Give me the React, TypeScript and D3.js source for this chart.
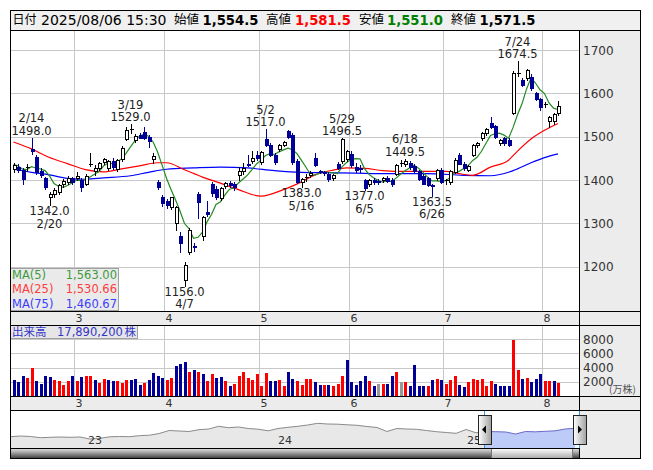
import React from 'react';
import * as d3 from 'd3';

// ---------------- DATA ----------------
const monthLabels = ['3', '4', '5', '6', '7', '8'];
const monthStartIndex = [14, 34, 55, 75, 96, 118];
const priceTicks = [1200, 1300, 1400, 1500, 1600, 1700];
const volumeTicks = [2000, 4000, 6000, 8000];

// [open, high, low, close] per trading day, 2025/02/07 .. 2025/08/06
const ohlc: [number, number, number, number][] = [
  [1425, 1440, 1418, 1434], [1430, 1436, 1418, 1424], [1424, 1428, 1390, 1402], [1428, 1436, 1422, 1430],
  [1472, 1498, 1460, 1466], [1454, 1458, 1415, 1418], [1420, 1428, 1408, 1412], [1405, 1408, 1380, 1384],
  [1360, 1372, 1342, 1368], [1368, 1382, 1362, 1378], [1372, 1392, 1368, 1388], [1390, 1402, 1385, 1398],
  [1396, 1410, 1392, 1406], [1404, 1408, 1392, 1396],
  [1404, 1418, 1400, 1410], [1400, 1404, 1374, 1384], [1392, 1414, 1388, 1410], [1434, 1462, 1432, 1436],
  [1420, 1434, 1412, 1428], [1428, 1442, 1424, 1440], [1441, 1450, 1436, 1448], [1428, 1446, 1424, 1444],
  [1444, 1450, 1426, 1430], [1426, 1448, 1422, 1446], [1448, 1478, 1444, 1474], [1495, 1522, 1492, 1515],
  [1516, 1529, 1508, 1518], [1492, 1506, 1488, 1502], [1504, 1508, 1496, 1498], [1511, 1522, 1494, 1497],
  [1500, 1504, 1477, 1490], [1448, 1462, 1440, 1456], [1396, 1400, 1380, 1385], [1362, 1366, 1340, 1348],
  [1352, 1356, 1335, 1342], [1338, 1362, 1334, 1360], [1300, 1340, 1285, 1338], [1270, 1280, 1234, 1255],
  [1170, 1210, 1156, 1204], [1234, 1290, 1230, 1285], [1248, 1256, 1236, 1246], [1368, 1372, 1312, 1350],
  [1270, 1318, 1262, 1315], [1326, 1352, 1318, 1322], [1390, 1396, 1364, 1370], [1380, 1386, 1356, 1362],
  [1358, 1384, 1354, 1382], [1386, 1396, 1382, 1393], [1394, 1398, 1384, 1388], [1390, 1396, 1378, 1384],
  [1412, 1430, 1400, 1420], [1420, 1440, 1414, 1428], [1438, 1458, 1432, 1437], [1444, 1468, 1440, 1451],
  [1458, 1468, 1446, 1450],
  [1441, 1466, 1438, 1464], [1494, 1517, 1478, 1481], [1482, 1486, 1456, 1459], [1459, 1462, 1438, 1441],
  [1471, 1484, 1468, 1481], [1481, 1490, 1478, 1487], [1513, 1516, 1498, 1500], [1505, 1508, 1438, 1442],
  [1444, 1448, 1394, 1396], [1395, 1404, 1383, 1402], [1406, 1414, 1398, 1408], [1412, 1420, 1408, 1416],
  [1452, 1462, 1432, 1435], [1421, 1424, 1416, 1418], [1419, 1422, 1412, 1417], [1415, 1418, 1398, 1402],
  [1404, 1414, 1400, 1411], [1438, 1442, 1426, 1428], [1444, 1496.5, 1440, 1495], [1448, 1470, 1444, 1467],
  [1461, 1466, 1430, 1435], [1431, 1440, 1418, 1423], [1428, 1434, 1418, 1426], [1400, 1403, 1377, 1382],
  [1391, 1402, 1386, 1400], [1400, 1404, 1392, 1396], [1398, 1402, 1392, 1395], [1400, 1408, 1396, 1405],
  [1406, 1410, 1396, 1398], [1400, 1404, 1386, 1390], [1415, 1438, 1412, 1435], [1436, 1446, 1432, 1440],
  [1436, 1449.5, 1432, 1444], [1440, 1444, 1426, 1430], [1432, 1436, 1418, 1422], [1420, 1424, 1400, 1402],
  [1410, 1414, 1390, 1392], [1404, 1408, 1386, 1388], [1388, 1392, 1363.5, 1386], [1404, 1426, 1400, 1423],
  [1423, 1428, 1394, 1396],
  [1398, 1402, 1390, 1400], [1396, 1424, 1392, 1421], [1419, 1450, 1416, 1446], [1458, 1462, 1436, 1438],
  [1438, 1442, 1424, 1427], [1423, 1434, 1420, 1432], [1459, 1484, 1456, 1481], [1481, 1488, 1476, 1485],
  [1496, 1510, 1492, 1508], [1508, 1520, 1504, 1519], [1531, 1546, 1520, 1523], [1525, 1528, 1498, 1500],
  [1485, 1494, 1480, 1492], [1496, 1500, 1482, 1485], [1492, 1496, 1478, 1482], [1555, 1652, 1552, 1646],
  [1645, 1674.5, 1640, 1648], [1631, 1636, 1616, 1619], [1636, 1656, 1632, 1654], [1638, 1644, 1608, 1612],
  [1600, 1604, 1584, 1587], [1587, 1590, 1562, 1569.5],
  [1574, 1580, 1568, 1576], [1536, 1548, 1522, 1546], [1536, 1554, 1530, 1552], [1554.5, 1581.5, 1551.0, 1571.5],
];
const preCloses = [1438, 1442, 1436, 1430];

// volume (万株) per day, grouped by month
const volFeb = [2300, 1930, 2770, 2590, 3990, 2070, 1750, 2870, 2730, 2210, 2070, 1610, 2070, 2870];
const volMar = [2070, 2730, 2870, 2870, 2310, 1790, 2450, 2210, 2070, 2140, 1790, 2310, 2210, 2450, 1610, 1790, 2310, 3190, 2770, 2490];
const volApr = [2210, 2490, 4270, 4550, 4730, 3430, 3710, 3430, 3110, 2070, 3050, 2590, 2630, 2070, 1470, 1750, 2870, 3430, 2590, 2280, 3050];
const volMay = [1470, 3290, 2140, 2070, 2310, 1470, 3360, 2450, 2140, 1610, 2450, 2450, 1930, 1610, 1610, 1610, 1370, 1750, 2770, 5010];
const volJun = [1930, 1610, 2070, 2770, 2070, 1470, 1750, 1750, 1750, 2770, 3360, 1930, 1930, 1370, 4410, 1470, 1470, 1470, 2210, 2450, 2210];
const volJul = [1750, 2210, 2770, 1610, 1230, 1930, 2450, 2310, 2450, 1470, 2070, 1750, 1470, 1470, 1470, 7910, 3710, 2450, 2590, 1930, 2450, 3050];
const volAug = [2140, 2140, 2070, 1789.02];
// bar colour code: r = up, b = down, g = unchanged
const dirFeb = 'bbbrrbbbbrrrrb';
const dirMar = 'rbrrbrrbbrrrbbbrbbbb';
const dirApr = 'rrbbbrbrbrrbbrbrrrrrr';
const dirMay = 'rrbbrrbbrrrrbbrbrrrb';
const dirJun = 'bbbbrbgrbbrgrbbbbrbrb';
const dirJul = 'rrrbbrrrrrrbbbbrrbrbbb';
const dirAug = 'rrbr';

const ma25Index = [0, 4, 8, 12, 16, 20, 24, 28, 32, 34, 38, 42, 46, 50, 55, 60, 64, 67, 71, 74, 78, 82, 87, 92, 96, 99, 102, 106, 110, 112, 115, 118, 121];
const ma25Value = [1488, 1472, 1452, 1438, 1424, 1419, 1426, 1433, 1440, 1440, 1424, 1407, 1393, 1378, 1363, 1378, 1396, 1412, 1423, 1428, 1427, 1422, 1420, 1420, 1420, 1415, 1411, 1430, 1446, 1467, 1495, 1515, 1530.66];
const ma75Index = [0, 4, 8, 12, 16, 20, 26, 30, 34, 40, 46, 52, 58, 64, 70, 76, 84, 92, 100, 106, 110, 112, 115, 118, 121];
const ma75Value = [1425, 1418, 1412, 1404, 1402, 1405, 1410, 1418, 1425, 1428, 1430, 1428, 1422, 1418, 1417, 1416, 1415, 1415, 1411, 1410, 1418, 1426, 1440, 1452, 1460.67];

// navigator (long-term overview)
const navValues = [
  1122, 1159, 1133, 1069, 1090, 1106, 1090, 1106, 999, 1037, 1117, 1133, 1122, 1175, 1202, 1293,
  1453, 1426, 1399, 1495, 1533, 1677, 1602, 1639, 1559, 1522, 1437, 1559, 1623, 1677, 1746, 1837,
  1799, 1789, 1757, 1730, 1666, 1613, 1399, 1559, 1533, 1517, 1453, 1389, 1346, 1303, 1506, 1330,
  1399, 1389, 1373, 1266, 1399, 1383, 1410, 1437, 1533, 1570,
];
const navYearLabels = ['23', '24', '25'];
const navYearAt = [7.7, 26.9, 46.0];
const navSelection = [47.85, 57.45];

const headerDate = '2025/08/06 15:30';
const headerOpen = '1,554.5';
const headerHigh = '1,581.5';
const headerLow = '1,551.0';
const headerClose = '1,571.5';

const annotations = [
  { i: 4, kind: 'high', date: '2/14', value: 1498.0 },
  { i: 8, kind: 'low', date: '2/20', value: 1342.0 },
  { i: 26, kind: 'high', date: '3/19', value: 1529.0 },
  { i: 38, kind: 'low', date: '4/7', value: 1156.0 },
  { i: 56, kind: 'high', date: '5/2', value: 1517.0 },
  { i: 64, kind: 'low', date: '5/16', value: 1383.0 },
  { i: 73, kind: 'high', date: '5/29', value: 1496.5 },
  { i: 78, kind: 'low', date: '6/5', value: 1377.0 },
  { i: 87, kind: 'high', date: '6/18', value: 1449.5 },
  { i: 93, kind: 'low', date: '6/26', value: 1363.5 },
  { i: 112, kind: 'high', date: '7/24', value: 1674.5 },
];

const volumes = [...volFeb, ...volMar, ...volApr, ...volMay, ...volJun, ...volJul, ...volAug];
const volumeDir = dirFeb + dirMar + dirApr + dirMay + dirJun + dirJul + dirAug;

// ---------------- LAYOUT ----------------
const L = 10, R = 641, PR = 579;
const headTop = 10, priceTop = 30, priceBot = 311, band1Bot = 325;
const volBot = 396, band2Bot = 410, navBot = 448, scrollBot = 459;
const FONT = 'DejaVu Sans, Verdana, sans-serif';
const CJK = 'Noto Sans CJK JP, sans-serif';

export default function App() {
  const n = ohlc.length;
  const x = d3.scaleLinear().domain([0, n - 1]).range([13.5, 558]);
  const y = d3.scaleLinear().domain([1098, 1744]).range([311, 31]);
  const yv = d3.scaleLinear().domain([0, 10000]).range([volBot, band1Bot]);
  const xn = d3.scaleLinear().domain([0, navValues.length - 1]).range([10.7, 575]);
  const yn = d3.scaleLinear().domain([520, 2546]).range([navBot, band2Bot]);

  const closes = ohlc.map((d) => d[3]);
  const allCloses = [...preCloses, ...closes];
  const ma5 = closes.map((_, i) => d3.mean(allCloses.slice(i, i + 5)) as number);

  const lineMA5 = d3.line<number>().x((_, i) => x(i)).y((d) => y(d));
  const lineSampled = (idx: number[], vals: number[]) =>
    d3.line<number>().x((_, k) => x(idx[k])).y((d) => y(d)).curve(d3.curveMonotoneX)(vals) as string;

  const gridX = monthStartIndex.map((i) => Math.round(x(i - 0.5)) + 0.5);
  const cxOf = (i: number) => Math.round(x(i));

  const navArea = d3.area<number>().x((_, k) => xn(k)).y0(navBot).y1((d) => yn(d))(navValues) as string;
  const navLine = d3.line<number>().x((_, k) => xn(k)).y((d) => yn(d))(navValues) as string;
  const selX0 = xn(navSelection[0]);
  const selX1 = xn(navSelection[1]);
  const fmt2 = d3.format(',.2f');
  const lastVolStr = d3.format(',')(Math.round(volumes[n - 1] * 10000));

  const handle = (hx: number, dir: 'l' | 'r') => {
    const top = 415, h = 29, w = 13;
    const cy = top + h / 2;
    const tri = dir === 'l'
      ? `M${hx + 4},${cy} L${hx + 8},${cy - 4} L${hx + 8},${cy + 4} Z`
      : `M${hx + 9},${cy} L${hx + 5},${cy - 4} L${hx + 5},${cy + 4} Z`;
    return (
      <g>
        <rect x={hx + 0.5} y={top + 0.5} width={w} height={h} fill="url(#handleGrad)" stroke="#222" />
        <path d={tri} fill="#000" />
      </g>
    );
  };

  return (
    <svg width={653} height={470} style={{ position: 'absolute', left: 0, top: 0, background: '#fff' }}>
      <defs>
        <clipPath id="plotClip"><rect x={L} y={priceTop} width={PR - L} height={priceBot - priceTop} /></clipPath>
        <clipPath id="navSel"><rect x={selX0} y={band2Bot} width={selX1 - selX0} height={navBot - band2Bot} /></clipPath>
        <linearGradient id="scrollGrad" x1="0" y1="0" x2="0" y2="1">
          <stop offset="0" stopColor="#e8e8e8" />
          <stop offset="0.35" stopColor="#b0b0b0" />
          <stop offset="1" stopColor="#333333" />
        </linearGradient>
        <linearGradient id="thumbGrad" x1="0" y1="0" x2="0" y2="1">
          <stop offset="0" stopColor="#ffffff" />
          <stop offset="1" stopColor="#a8a8a8" />
        </linearGradient>
        <linearGradient id="handleGrad" x1="0" y1="0" x2="1" y2="0">
          <stop offset="0" stopColor="#ffffff" />
          <stop offset="1" stopColor="#a0a0a0" />
        </linearGradient>
      </defs>

      {/* backgrounds */}
      <rect x={L} y={headTop} width={R - L} height={priceTop - headTop} fill="#f0f0f0" />
      <rect x={L} y={priceTop} width={PR - L} height={priceBot - priceTop} fill="#fff" />
      <rect x={PR} y={priceTop} width={R - PR} height={band2Bot - priceTop} fill="#ececec" />
      <rect x={L} y={priceBot} width={PR - L} height={band1Bot - priceBot} fill="#ececec" />
      <rect x={L} y={volBot} width={PR - L} height={band2Bot - volBot} fill="#ececec" />
      <rect x={L} y={band1Bot} width={PR - L} height={volBot - band1Bot} fill="#fff" />
      <rect x={L} y={band2Bot} width={PR - L} height={navBot - band2Bot} fill="#fff" />
      <rect x={PR} y={band2Bot} width={R - PR} height={scrollBot - band2Bot} fill="#ececec" />

      {/* header */}
      <g fontSize={14} fontFamily={FONT}>
        <text x={12.5} y={24} fontFamily={CJK} fontSize={12}>日付</text>
        <text x={41} y={24.5}>{headerDate}</text>
        <text x={174} y={24} fontFamily={CJK} fontSize={12.5}>始値</text>
        <text x={202.5} y={24.5} fontWeight="bold" fontSize={13.2}>{headerOpen}</text>
        <text x={266} y={24} fontFamily={CJK} fontSize={12.5}>高値</text>
        <text x={295} y={24.5} fontWeight="bold" fontSize={13.2} fill="#ff0000">{headerHigh}</text>
        <text x={359} y={24} fontFamily={CJK} fontSize={12.5}>安値</text>
        <text x={387} y={24.5} fontWeight="bold" fontSize={13.2} fill="#008000">{headerLow}</text>
        <text x={451} y={24} fontFamily={CJK} fontSize={12.5}>終値</text>
        <text x={479.5} y={24.5} fontWeight="bold" fontSize={13.2}>{headerClose}</text>
      </g>

      {/* grids */}
      <g stroke="#c8c8c8" shapeRendering="crispEdges">
        {priceTicks.map((p) => (
          <line key={p} x1={L} x2={PR} y1={Math.round(y(p)) + 0.5} y2={Math.round(y(p)) + 0.5} />
        ))}
        {gridX.map((gx, k) => (
          <line key={k} x1={gx} x2={gx} y1={priceTop} y2={priceBot} />
        ))}
        {volumeTicks.map((v) => (
          <line key={v} x1={L} x2={PR} y1={Math.round(yv(v)) + 0.5} y2={Math.round(yv(v)) + 0.5} />
        ))}
        {gridX.map((gx, k) => (
          <line key={'v' + k} x1={gx} x2={gx} y1={band1Bot} y2={volBot} />
        ))}
      </g>

      {/* moving averages */}
      <g clipPath="url(#plotClip)" fill="none" strokeWidth={1.2}>
        <path d={lineSampled(ma75Index, ma75Value)} stroke="#0000ff" />
        <path d={lineSampled(ma25Index, ma25Value)} stroke="#ff0000" />
        <path d={lineMA5(ma5) as string} stroke="#228b22" />
      </g>

      {/* candles */}
      <g shapeRendering="crispEdges">
        {ohlc.map(([o, h, l, c], i) => {
          const cx = cxOf(i);
          const up = c >= o;
          const col = up ? '#000000' : '#000099';
          const top = Math.round(y(Math.max(o, c)));
          const bot = Math.round(y(Math.min(o, c)));
          const hh = Math.max(1, bot - top);
          return (
            <g key={i}>
              <line x1={cx + 0.5} x2={cx + 0.5} y1={Math.round(y(h))} y2={Math.round(y(l)) + 1} stroke={col} />
              {up ? (
                hh <= 1 ? (
                  <rect x={cx - 1} y={top} width={4} height={1} fill="#000" />
                ) : (
                  <rect x={cx - 0.5} y={top + 0.5} width={3} height={hh} fill="#fff" stroke="#000" />
                )
              ) : (
                <rect x={cx - 1} y={top} width={4} height={hh + 1} fill="#000099" />
              )}
            </g>
          );
        })}
      </g>

      {/* high / low annotations */}
      <g fontFamily={FONT} fontSize={11.5} fill="#222" textAnchor="middle">
        {annotations.map((a) => {
          const ax = x(a.i);
          const yy = y(a.value);
          if (a.kind === 'high') {
            return (
              <g key={a.date}>
                <text x={ax} y={yy - 15.5}>{a.date}</text>
                <text x={ax} y={yy - 3}>{a.value.toFixed(1)}</text>
              </g>
            );
          }
          return (
            <g key={a.date}>
              <text x={ax} y={yy + 10}>{a.value.toFixed(1)}</text>
              <text x={ax} y={yy + 22.5}>{a.date}</text>
            </g>
          );
        })}
      </g>

      {/* MA legend */}
      <g fontFamily={FONT} fontSize={11.5}>
        <rect x={L + 0.5} y={268.5} width={108} height={42} fill="#e6e6e6" fillOpacity={0.85} stroke="#a0a0a0" />
        <text x={12} y={279} fill="#3d9a3d">MA(5)</text>
        <text x={117} y={279} fill="#3d9a3d" textAnchor="end">{fmt2(ma5[n - 1])}</text>
        <text x={12} y={293} fill="#ff3c3c">MA(25)</text>
        <text x={117} y={293} fill="#ff3c3c" textAnchor="end">{fmt2(ma25Value[ma25Value.length - 1])}</text>
        <text x={12} y={307.5} fill="#3c3cff">MA(75)</text>
        <text x={117} y={307.5} fill="#3c3cff" textAnchor="end">{fmt2(ma75Value[ma75Value.length - 1])}</text>
      </g>

      {/* price axis labels */}
      <g fontFamily={FONT} fontSize={12} fill="#333">
        {priceTicks.map((p) => (
          <text key={p} x={583} y={y(p) + 4.5}>{p}</text>
        ))}
      </g>

      {/* volume bars */}
      <g shapeRendering="crispEdges">
        {volumes.map((v, i) => {
          const cx = cxOf(i);
          const d = volumeDir[i];
          const col = d === 'r' ? '#ff0000' : d === 'g' ? '#999999' : '#000099';
          const top = Math.round(yv(v));
          return <rect key={i} x={cx - 1} y={top} width={3} height={volBot - top} fill={col} />;
        })}
      </g>

      {/* volume label */}
      <g fontSize={11.5}>
        <rect x={L + 0.5} y={band1Bot + 0.5} width={127} height={13} fill="#e6e6e6" stroke="#a0a0a0" />
        <text x={12} y={336} fill="#3535c8" fontFamily={CJK}>出来高</text>
        <text x={57} y={336} fill="#3535c8" fontFamily={FONT}>{lastVolStr}</text>
        <text x={124.5} y={336} fill="#3535c8" fontFamily={CJK}>株</text>
      </g>

      {/* volume axis labels */}
      <g fontFamily={FONT} fontSize={12} fill="#333">
        {volumeTicks.map((v) => (
          <text key={v} x={583} y={yv(v) + 4.5}>{v}</text>
        ))}
        <text x={609} y={393} fontSize={10} fontFamily={CJK} fill="#555">(万株)</text>
      </g>

      {/* month labels */}
      <g fontFamily={FONT} fontSize={11} fill="#333" textAnchor="middle">
        {gridX.map((gx, k) => (
          <text key={'a' + k} x={gx + 4.5} y={321.5}>{monthLabels[k]}</text>
        ))}
        {gridX.map((gx, k) => (
          <text key={'b' + k} x={gx + 4.5} y={406.5}>{monthLabels[k]}</text>
        ))}
      </g>

      {/* navigator */}
      <path d={navArea} fill="#e8e8e8" />
      <path d={navLine} fill="none" stroke="#8a8a8a" strokeWidth={1} />
      <g clipPath="url(#navSel)">
        <rect x={selX0} y={band2Bot} width={selX1 - selX0} height={navBot - band2Bot} fill="#fff" />
        <path d={navArea} fill="#bccbf7" />
        <path d={navLine} fill="none" stroke="#6a6ac8" strokeWidth={1} />
      </g>
      <g fontFamily={FONT} fontSize={11} fill="#333">
        {navYearLabels.map((t, k) => (
          <text key={t} x={xn(navYearAt[k]) + 1} y={444}>{t}</text>
        ))}
      </g>
      <g stroke="#2a9df4" shapeRendering="crispEdges">
        <line x1={Math.round(selX0) + 0.5} x2={Math.round(selX0) + 0.5} y1={band2Bot} y2={navBot} />
        <line x1={Math.round(selX1) + 0.5} x2={Math.round(selX1) + 0.5} y1={band2Bot} y2={navBot} />
      </g>

      {/* scrollbar */}
      <rect x={L} y={navBot} width={PR - L} height={scrollBot - navBot} fill="url(#scrollGrad)" />
      <rect x={Math.round(selX0) + 7.5} y={navBot + 0.5} width={selX1 - selX0 - 14} height={scrollBot - navBot - 1} fill="url(#thumbGrad)" stroke="#777" />

      {handle(Math.round(selX0) - 6, 'l')}
      {handle(Math.round(selX1) - 6, 'r')}

      {/* frame lines */}
      <g stroke="#000" shapeRendering="crispEdges" fill="none">
        <rect x={L + 0.5} y={headTop + 0.5} width={R - L - 1} height={scrollBot - headTop - 1} />
        <line x1={L} x2={R} y1={priceTop + 0.5} y2={priceTop + 0.5} />
        <line x1={L} x2={R} y1={priceBot + 0.5} y2={priceBot + 0.5} />
        <line x1={L} x2={R} y1={band1Bot + 0.5} y2={band1Bot + 0.5} />
        <line x1={L} x2={R} y1={volBot + 0.5} y2={volBot + 0.5} />
        <line x1={L} x2={R} y1={band2Bot + 0.5} y2={band2Bot + 0.5} />
        <line x1={L} x2={PR} y1={navBot + 0.5} y2={navBot + 0.5} />
        <line x1={PR + 0.5} x2={PR + 0.5} y1={priceTop} y2={band2Bot} />
        <line x1={PR + 0.5} x2={PR + 0.5} y1={navBot} y2={scrollBot} />
      </g>
    </svg>
  );
}
